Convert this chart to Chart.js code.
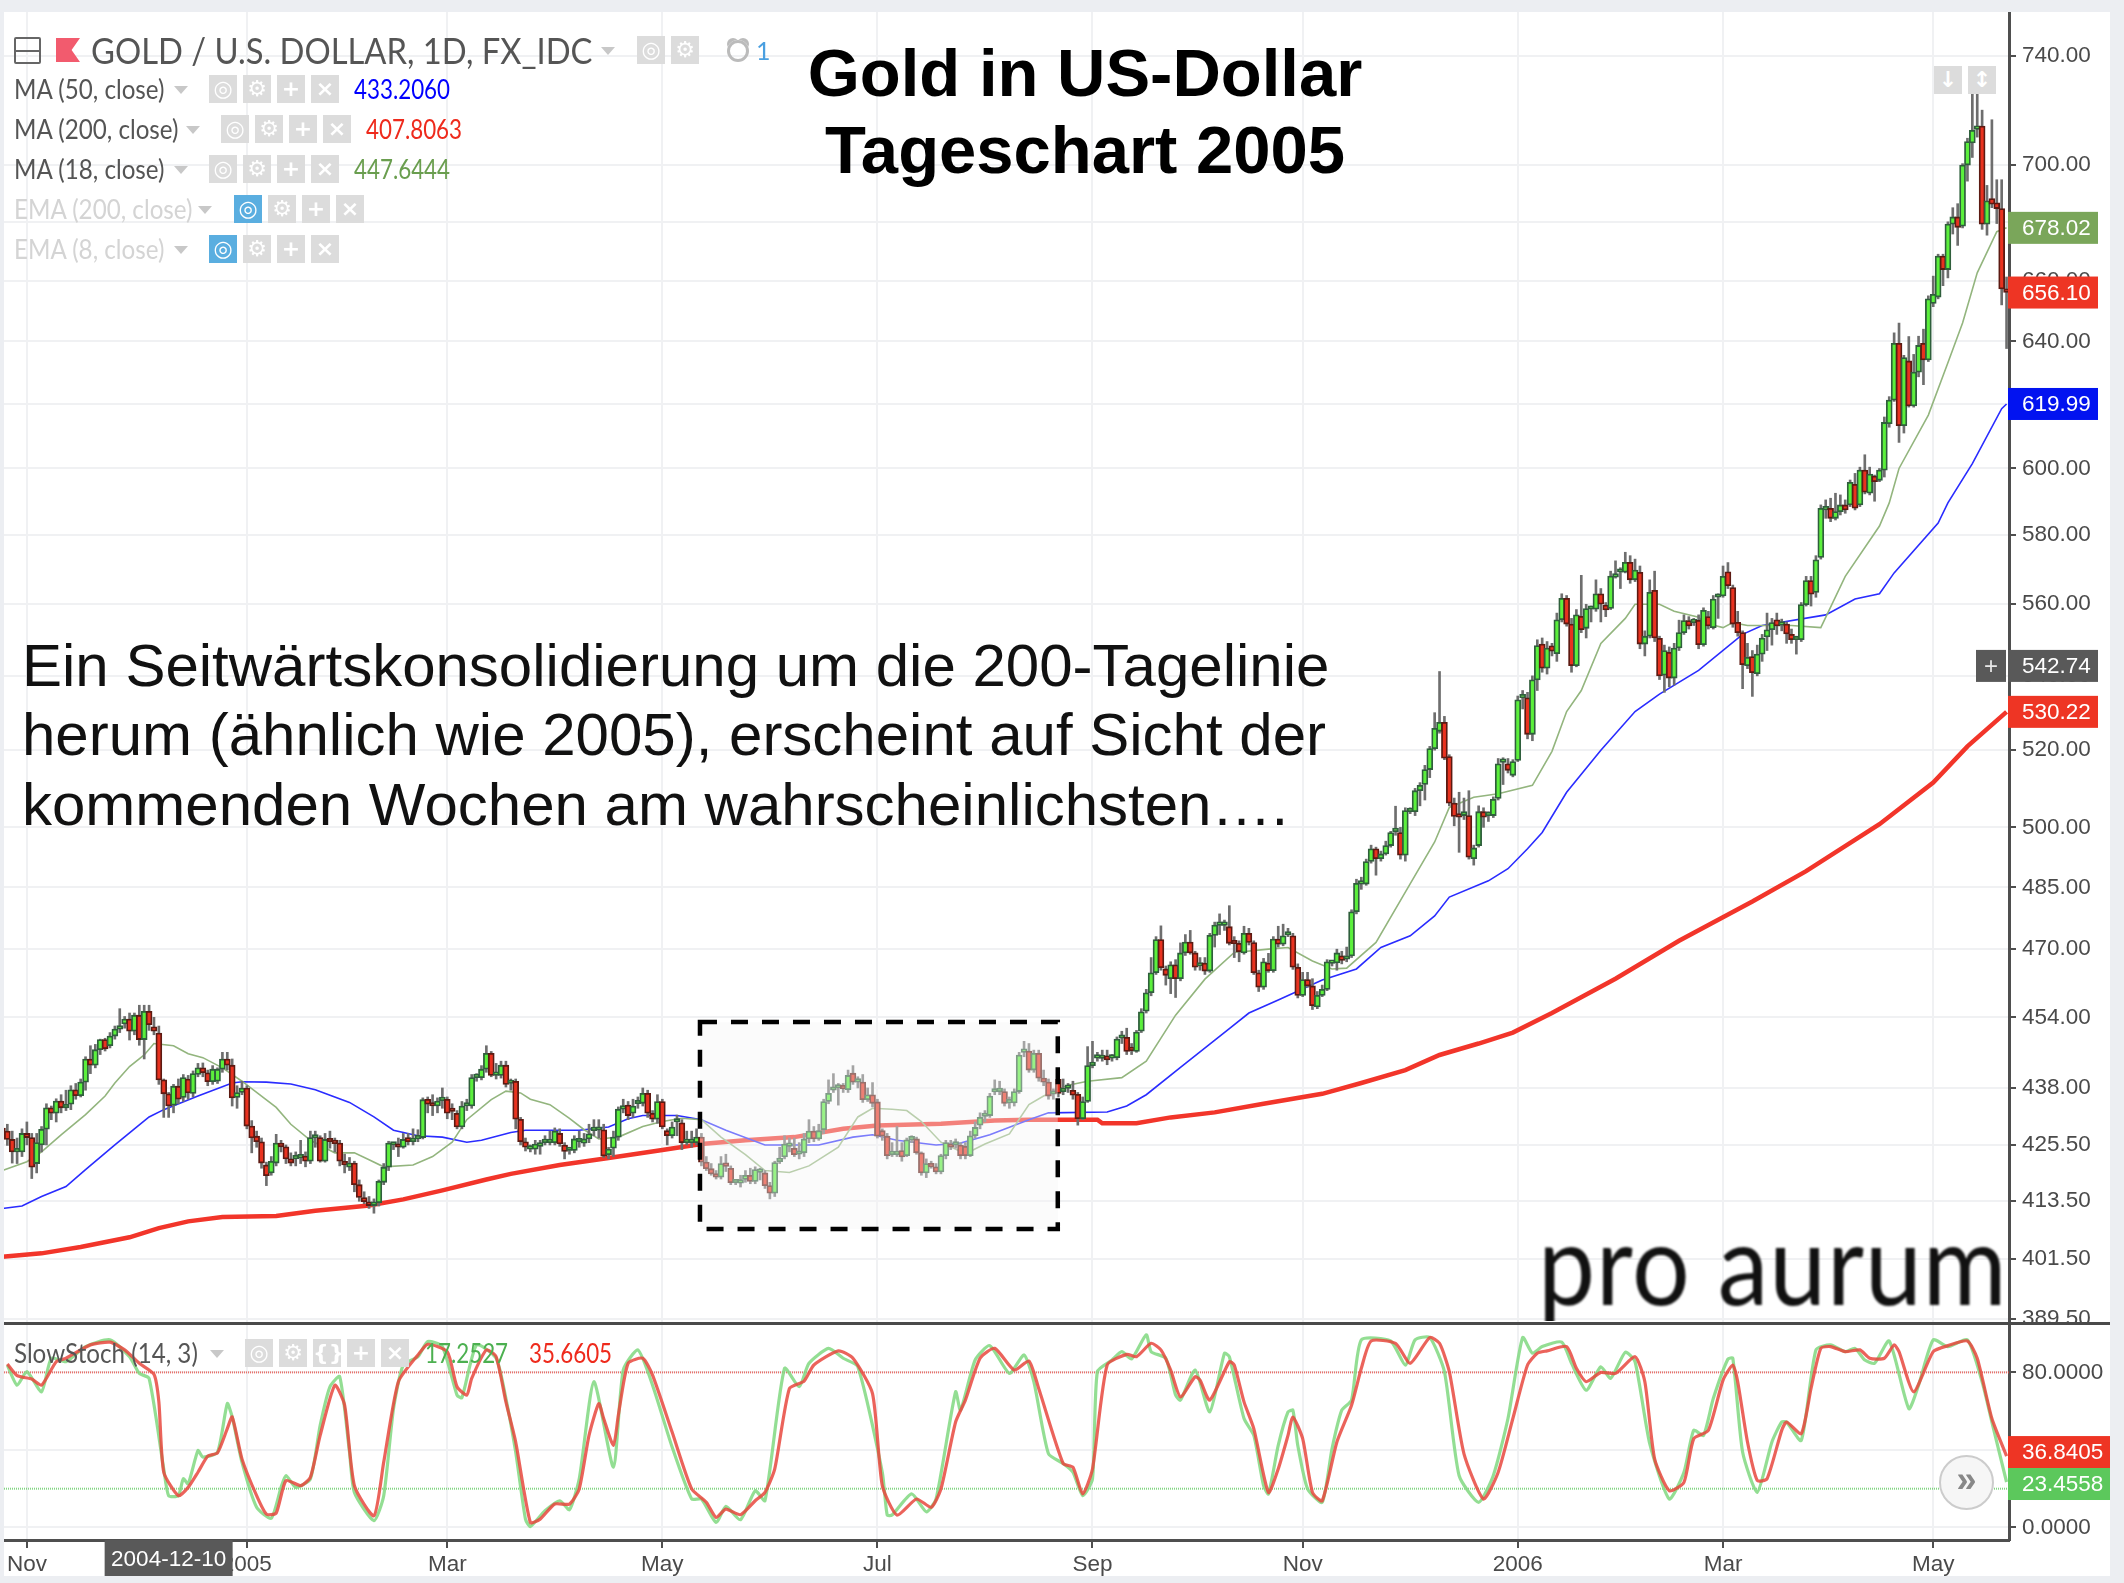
<!DOCTYPE html>
<html>
<head>
<meta charset="utf-8">
<title>Gold in US-Dollar</title>
<script src="https://cdn.jsdelivr.net/npm/chart.js@4/dist/chart.umd.min.js"></script>
<style>
html, body { margin: 0; padding: 0; background: #eceef2; }
body { position: relative; width: 2124px; height: 1583px; overflow: hidden; }
canvas { position: absolute; left: 0; background: #fff; }
.t { position: absolute; white-space: nowrap; transform: translateY(-50%); transform-origin: left center; line-height: 1; }
.sq { position: absolute; width: 28px; height: 28px; background: #dcdcdc; color: #fff; text-align: center; font: bold 22px/28px "DejaVu Sans"; }
</style>
</head>
<body>
<canvas id="priceChart" width="2110" height="1310" style="top:12px"></canvas>
<canvas id="stochChart" width="2110" height="254" style="top:1322px"></canvas>
<div style="position:absolute;left:0;top:0;width:4px;height:1583px;background:#eceef2"></div>
<div style="position:absolute;left:4px;top:1322px;width:2106px;height:3px;background:#4a4a4a"></div>
<div id="overlay"></div>
<script>
const opens = [
429,428.5,426.7,424,424,428,427.1,421.5,425.5,428.9,
433.6,432.4,435.1,433.6,434.4,437.6,436.3,439.3,444.5,443.1,
446.6,448.9,447.5,449.7,451.3,452.5,453.6,450.8,454.5,448.9,
455.4,451.8,450.4,439.8,436.7,434.2,438.4,435.9,440,436.8,
441,442.5,441.4,439.4,439.5,442.2,444.5,443.1,435.9,437,
438,429.6,427.4,426.2,421.2,419.5,421.6,425.9,425.1,422.5,
422.5,422.7,423.1,422,427,427.1,422,426.3,425.9,425.9,
422,420.7,421.6,417,414.3,413.4,412.6,413.2,417.5,420.7,
425.5,425.4,425,427.1,426.2,426.8,427.1,435.5,434.1,434,
435.2,435.5,432.9,432.4,429.4,434,434,440.3,440.3,442.2,
445.8,440.8,440.8,443.1,439,439.5,431.1,426.2,424.6,424.6,
425.2,426,426,426,428,425.5,424.3,424.3,426.2,425.9,
426.8,428.6,428.7,428.8,423.4,424.8,427.2,433.3,434.2,432.4,
434.5,434.6,436.8,432.4,431.1,435,428.6,427.5,430.5,430.3,
426,426,426,427.2,421.8,420.4,419.3,418.6,421.2,420.5,
417.4,417.3,418.1,419,417.7,419.6,419.5,416.8,415.2,421.9,
422.9,425.2,424.8,423.5,423.8,426.8,428.5,426.8,428.8,435,
437.5,438,438.5,437.6,441.3,439.3,439.3,435.4,436.5,434.9,
428.6,427.4,423.4,423.4,424.3,423.2,426.6,426.8,423.8,419.5,
421.5,420.8,419.7,423.2,425.5,425.5,425.5,425.2,423.2,427.5,
429.8,431.7,431.9,437.1,437.2,437.2,434.7,434.7,437.2,446,
446.3,442,445.8,440.2,439.3,436.6,439.9,437.2,437.9,437.5,
436.6,431.2,435,443,444.7,444.6,445.2,444.7,444.8,449.2,
449.4,446.5,446.2,450.8,455.4,459.7,464.4,472.3,465.3,463,
466.3,463,469.1,471.7,469.1,466,466.7,464.8,473.3,475.7,
475.7,475.4,471.7,471.4,469.1,473.8,471.6,464.4,461,466.7,
464.9,472.4,471.2,473.4,473.2,465.7,459.1,462.8,461.3,456.4,
459.1,460.5,466.6,466.7,468.4,467.6,468.4,479,485.8,485.8,
491.4,494.6,492.1,493.3,495.4,498.9,498.7,493,504,504,
509.4,511,514.9,520.4,525,527.4,518.3,506.2,502.7,503,
503,492.1,495.4,504,503,503,507.4,516.8,516.4,513.4,
517.3,534,534,524.2,538.9,548.8,542.1,548.3,546.1,555.6,
561.7,554.4,542.8,556.6,553.2,558.6,558.6,563,559.8,558.8,
567.8,569.2,569.2,572.1,567,569.2,548.8,551,564,550.4,
540.2,546.5,539.4,547.7,552,555.4,554.8,555.5,548.6,556.5,
553.4,562,562.4,569.3,564.8,554.9,552,542.8,545.3,540.6,
546,550.8,552.8,555.6,554.1,554.4,551.5,550,550,559.9,
566.8,563.4,573.5,587.5,588,585,587,589,589,595.2,
589,599.5,592.5,597.7,596.4,599.5,613.8,621.2,639.4,613.2,
633.7,619.4,630.1,639.4,634,652.5,654.6,668.4,663.8,679.3,
681.8,678.6,700,707.9,712.8,714,679.3,688.2,686.7,684.7,657.3]
const closes = [
428.4,426.7,424,424.2,428,427.1,420.7,426,428.9,433.6,
432.4,435.1,433.6,434.4,437.6,436.3,439.3,444.5,443.1,446.6,
448.9,446.8,449.7,451.3,452.1,453.6,450.8,454.5,448.9,455.4,
452.3,450.8,439.8,436.7,434,438.4,435.5,440.3,436.9,441.2,
442.5,441.4,439.4,442.2,442.2,444.5,443.1,435.8,437,438,
429.6,427,426.2,421.6,418.9,422,425.9,425.1,422.5,421.6,
422.8,422.8,422,427.1,427,422,426.7,426.2,425.8,422,
421.2,421.6,417,414.3,413.4,412.6,413.4,417.7,420.7,425.9,
425.5,425,426.7,426.2,427,427.1,435.4,434.4,434,435.1,
435.4,432.4,432.8,429.4,434,434,440.3,440.4,442.2,445.8,
440.8,440.8,443.1,438.8,439.2,431.1,426.2,425,424.6,425.7,
426,426,426.2,428.5,425.7,424.1,424.3,426.8,426.2,426.8,
427.9,428.7,428.7,423.1,424.6,427.2,433.3,434,431.9,434,
434.6,436.8,432.4,431.1,435,429.4,427.5,429.4,430.5,426,
426,426.2,427.2,421.8,420.4,419.3,418.6,421.5,420.9,417.4,
417.4,418.1,419,417.7,420.2,419.6,416.8,415.2,421.7,422,
425.7,425.2,423.4,423.5,426.8,428.5,426.8,428.6,435,436.8,
438,438.2,437.8,440.8,439.3,439.3,435.4,436.5,434.6,427.4,
427.4,423.2,423.4,423.6,422.9,426.6,426.8,423.8,419.5,421.5,
420.8,419.7,423.2,426,425,426.2,423.2,423.2,427.5,429.3,
431.5,431.7,436.2,437.1,437.2,434.6,434.7,437.2,445.4,446.3,
442,445.8,440.2,439.3,436.2,436.9,436.8,437.9,437.9,436.4,
431.2,435,443,443.1,444.7,444.8,444.3,444.8,449,449.2,
446.2,446.4,450.6,455.3,459.7,464.4,472.3,465.6,463.8,466.3,
463,469.1,471.7,469.1,465.7,466,464.8,473.3,475.8,475.7,
475.7,471.4,471.3,469.4,473.8,471.6,464.4,461,467,464.9,
472.4,471.2,473.2,473.4,465.7,459.1,462.8,461.3,456.7,459.1,
460.5,467,466.6,469.1,467.3,468.4,479,486,485.8,491.4,
494.6,492.1,493.3,495.4,498.7,499,493,504.3,504.1,509.4,
510.8,514.9,520.4,525.8,527.4,517.9,506.2,502.8,502.6,504,
492.5,494.8,504,502.6,503,507.2,516.4,516.8,514.7,517,
533.5,534,524.2,538.9,548.4,542.1,547.7,546.8,555.6,561.7,
554.4,542.8,557,552.8,558.8,558.6,563,560,558.4,568.1,
568.8,569.2,572.1,567,569.8,548.8,551,563.4,550.5,540,
547,539.4,547.7,552,555.4,553.9,555.2,548.6,558.3,553.9,
561.5,562,568,565.3,554.4,552,543.1,545.1,540.9,546,
550.5,552.8,554.8,553.9,554.1,551.6,550,550,559.9,566.8,
562.9,572.8,588,587.5,585,587,589,587.5,595.8,588,
599.5,592.8,598.3,596,599.5,614.2,621.2,639.4,613.2,634.8,
619.4,630.1,638.7,634,654,655.5,668.4,663.8,679.3,681.8,
678.2,700,708.4,712.5,714,679.3,687.4,686.2,684.7,657.3,656.1]
const highs = [
430.5,430,428.5,427,429,430.5,428,428,429.5,434.5,
434,435.6,436.5,437.5,438.5,439,440,445,447.5,447.8,
449,449.2,450.5,452,456,454.2,455,455,456.8,456.8,
456.8,454,452,440,437,438.8,440,441,440.8,441.8,
443.5,443.6,442,443,442.5,446,446,444.5,438.5,439.5,
438.5,430.8,428.5,427,421.8,423,427.8,426.5,425.5,423.8,
424,426.5,424,428.5,428.5,427.5,428,428.5,427,426.5,
423.5,422.8,422,418,415.5,414.5,414,418,421.5,426.3,
426,427,428,428,429,428.8,435.8,436,436.5,435.8,
438,436,434.5,433,435,435.5,441,441.2,443,447.5,
446.2,443.5,444,444,440,440,431.5,427,425.5,426.5,
426.5,427.5,428.5,429.2,429,426,425,427.5,428.5,428,
430,431,431,430,425,428.5,433.8,435.5,435,435.5,
436,438,437.5,433,436.5,435.5,429,430.5,432,431,
428.5,428.5,429,428,423,421.5,420,423,423.5,421,
418,419,420,420.5,420.8,420.5,420,417.5,422,425,
427.5,427,427,426,428,431,429.5,430,435.5,439.8,
441.2,439,439,442,443,440.5,441,438,439.2,435.5,
429,428,426,429.5,426,427,427.5,427.2,424,422.5,
422,421.5,423.5,426.5,426.5,426.8,426,426,428.5,430.5,
432.5,433,436.8,439.8,439.5,437.8,436,437.8,446,448.5,
448,446.5,446.5,442,440,437.8,441,440,439,439.5,
437,436,447.3,448.5,446,446.5,446.5,445.5,449.5,450.8,
451.5,448,451,456,460.5,468,473,475.6,466,467,
467.5,471.5,473.5,474.5,469.5,468,468,473.8,476.5,478.5,
477,480.5,473,472,475.5,475,472,465,467.8,469,
473,475.5,476,475,473.8,466.5,464.5,464.5,463,460,
461.5,467.5,467,470,469.5,470.5,479.5,487,487.5,492,
495.5,495,494,496.5,499,505.4,500,505,505,510,
511.5,516,521,530,541.2,529,518.8,507.5,509,507.5,
509.4,495.5,505.5,505,504,507.8,517.8,518,517.8,517.5,
534.5,536,535.5,540,550,550.5,549.5,549,557.5,563,
562.5,556,558.5,568.3,560,559.5,567,564.5,560.5,569.5,
572.5,570.5,575,574,573,571,552.5,567,569.5,551,
548.5,548,549,555.5,557,556.5,556,557,559,558,
562.5,563,571,572,565.5,558,552.5,549,547,548.5,
551.5,557.5,556,557.5,555.8,555,553,551,560.5,568,
568,574,589,590.5,591,592.5,592,590.5,596.5,598.5,
600.4,604.2,600.4,598,600,615.9,622.3,642.8,646,635.5,
641.6,635.8,641.7,644,655,661.6,669,669,680.1,685,
686.4,700.5,709.6,727,732,719.8,692.8,716.3,694.8,694.8,661.3]
const lows = [
426.5,425.4,421.6,421.5,423,425.5,418.3,419.5,424,425.5,
431,430.5,432.5,433,433.2,435.5,436,437.5,441.2,442.5,
445.5,446.3,447,449,450.5,451.5,448.8,450,447.6,444.5,
451,450,438.8,431.5,431.5,432.5,434.5,435,435.5,436,
440.5,440.5,438.5,438.8,439,441.5,442,434,433.5,436.5,
429,423.8,425,420.5,416.8,419,421,424,421.5,421,
421,421.5,420.8,421.5,425,421.8,421.8,424.8,424,421,
419.5,420,415.5,413.5,413,412,411,412.5,417,420,
424.5,423,424.8,425.5,425.5,426.2,426.8,432.5,431.9,432.5,
433.5,431.2,431,429,429,433,433.5,439.5,439.8,441.5,
440.5,440,440.2,438.2,437.5,429,425.5,424.2,424,423.5,
423.5,425.5,425.5,425.5,425.2,422.5,423.5,423.8,425,425.2,
426,427.5,427,422.8,422.5,423,426.5,432.5,431,431.5,
433.5,434,431.5,430.5,430.2,429,425.5,427,427.5,424.5,
425.5,425,425.5,421,420,419,418.2,418.2,419.8,417,
417,416.5,417.5,417.2,417.2,418,416.2,414,414.5,421.5,
422.5,424,423,422.5,423,426,426.2,426.5,428,434.5,
437,434.2,437,437,438.8,438,434.8,435,433.8,427,
426.5,422.5,423,423,422,423,426,423.5,419,418.5,
420.5,419.3,419.3,422.5,424.5,424.8,422.5,422.5,423,427,
429,430.5,431.5,436.5,436.5,434,433.5,434,436.8,445,
441.5,441.5,439.5,438.5,435.5,435.5,436,436.5,437,435.5,
429.8,431,434.8,442.5,444,444,443.2,444,444.3,448,
445.5,445.5,446,450.5,455,459,464,465,461.5,459.5,
458.6,462.5,468.5,468.8,465,465,464,464.5,470.5,473.5,
474.5,471,468,467,468.8,471,464,460,460.5,464.5,
464.5,470.5,470.8,473,465.2,458.5,458.8,461,455.8,456,
458.8,460.2,466,465,466.5,467,468,478.5,484.5,485.5,
491,488,491.5,493,495,498,492,491.5,503.5,503,
505.5,507,512.8,520,524.5,517.5,505.5,500.4,493.7,502,
492,490.5,495,500,501.5,502.5,507,511,514,513,
517,531,523,522.5,536,541,540.5,545.5,544,555,
553.8,541,542.5,552,550.5,555,558,555,556.5,558.5,
567.5,564.5,569,566,566.5,547.5,545.5,550.5,549.5,539,
535.5,537,537.5,547,551.5,553,554,547.5,548.2,553,
553,556,562,564.5,553.5,551,536.5,542,534.4,540,
544,547,548.5,551.5,552.5,549,549,546,549.5,559.5,
559.5,562,573,585,584,584.5,586,586.5,588.5,587.5,
588.5,592.3,592,590.1,596,597.4,612.7,620.8,608,610.9,
619,619,628.6,626.1,633.5,651.4,654,658.4,661,675.9,
672,678,694.3,702.7,710,677.5,675.5,685,679.5,652,637.7]

const ma200Idx = [0,8,16,26,32,38,45,56,64,75,82,90,99,104,114,124,135,143,152,162,172,179,192,203,210,216,224,225,232,239,248,258,270,278,287,294,302,309,317,330,343,358,369,384,395,402,410]
const ma200Vals = [402,402.7,404,406,407.9,409.3,410.2,410.4,411.5,412.6,413.9,415.8,418.1,419.3,421.2,422.7,424.4,425.7,426.5,427.2,429,429.7,430.1,430.8,431,431,431,430.2,430.2,431.5,432.6,434.5,436.7,439.1,442,445.4,448,450.5,455,463,472,481.5,489,500.8,511.5,521,530.22]
const ma50Idx = [0,4,8,13,17,23,27,30,33,40,47,49,54,59,64,71,76,80,85,90,95,98,104,107,118,124,128,131,138,143,148,156,167,174,178,183,191,196,202,210,214,226,230,234,241,251,255,261,270,277,282,288,293,296,304,308,312,315,320,327,334,339,347,356,360,373,379,384,387,396,398,403,409,410]
const ma50Vals = [412,412.5,414.5,416.6,420.2,425.5,429,431.6,433.2,436.2,439.1,439.4,439.3,438.9,437.6,434.8,431.6,428.7,427.5,427.2,426.1,426.5,428.2,428.7,428.7,429.4,431.2,431.9,431.9,431,428.7,425.5,425.5,427.2,427.7,426.5,425.5,425.9,427.7,431,432.5,432.7,434,436.5,442.6,451.4,455,458,462.7,465.3,470.4,473.2,478,482.6,486.6,489.6,494.6,498.7,509,520,530.3,535,541.5,551.5,554,557,561.5,563,569,583.6,589.6,601.5,618.5,619.99]
const ma18Idx = [0,5,8,12,17,21,23,26,29,31,35,38,41,45,49,53,56,59,63,68,72,75,78,84,88,92,95,100,103,106,108,112,116,119,122,126,131,135,139,143,147,152,156,161,165,171,175,178,182,185,188,192,197,201,206,210,213,218,222,229,234,240,246,252,259,263,268,272,275,281,287,293,296,301,306,313,317,320,323,327,332,334,339,342,347,348,352,354,357,360,366,372,377,384,386,388,394,398,401,404,408,410]
const ma18Vals = [420,421.9,424,427.7,432.1,436.2,439.1,442.8,445.4,448,447.5,445.7,444.8,442.5,439.5,436.2,433.7,430,426.5,423.8,423.8,422.3,420.8,421.2,423,426.1,431,435.4,437.3,436.9,435.5,434.3,431.3,428.8,426.8,427.2,429.5,430.6,431.3,431,427.2,423.4,420,419.6,421,425,431.6,433.5,433.3,433,430.6,426.1,423.6,425.7,427.9,434.3,436.2,438.6,439.5,440.3,444,454.5,462.9,469.2,470,470.4,467.2,465.3,465.5,471.6,483.8,496.3,505.1,507.7,508.6,510.8,519.7,530.3,536,549,556,560,560,558,556.3,554.8,553.4,554.8,554,554,554,553.4,568,582.7,589.6,600,616.5,633.1,646,662.7,676.7,678.02]

const stochKIdx = [
1,3,5,8,10,13,17,22,26,28,
30,33,34,36,37,38,40,41,44,46,
47,49,52,55,57,58,60,63,65,67,
69,71,72,76,78,80,82,85,87,90,
93,94,97,101,103,105,107,108,111,114,
116,118,121,125,127,130,133,137,141,143,
146,148,151,154,156,160,163,165,169,172,
175,180,181,182,186,189,191,195,196,199,
202,206,209,211,214,217,219,221,223,224,
227,229,231,234,235,238,240,241,244,247,
250,251,254,256,258,259,261,263,264,265,
267,270,272,274,276,278,284,287,289,292,
295,298,302,305,308,311,313,315,319,321,
324,327,329,332,334,337,341,344,346,348,
350,353,354,356,359,362,364,365,368,371,
374,377,379,381,383,386,390,392,395,398,
402,405,407,410]
const stochKVals = [
83.8,73.4,80.4,70,87.3,85.5,93.3,96.8,88.1,79.5,
76.9,30.2,16.4,16.4,25.1,22.5,39.7,36.3,38.9,63.9,
57,33.7,10.4,4.7,20.7,26.8,20.7,25.1,52.7,72.6,
77.8,38.9,18.1,3.5,16.4,61.3,83.8,88.1,95.9,93.3,
68.3,66.9,94.2,87.3,66.5,38.9,4.3,0.5,8.6,13.8,
9.2,25.1,75.2,31.1,81.2,91.6,73.4,41.5,14.7,14.7,
2.6,10.9,4,19,13.8,82.1,72.6,84.7,92.4,87.3,
82.9,28.5,6.4,6.4,17.3,8.1,14.7,70,60.5,86.4,
93.8,79.5,89,75.2,38,33,28.5,16.4,25.1,80.4,
86.4,90.7,86.9,99.4,90.7,87.3,68.3,65.7,81.2,59.6,
89.9,88.1,56.2,47.5,21.6,17.3,42.3,59.6,60.5,42.3,
19.9,13,40.6,60.5,65.7,96.8,96.2,83.8,96.8,98,
80.4,26.8,13,26.8,56.2,98,89.9,93.3,95.6,84.7,
70.8,82.9,76.9,90.4,85.5,43.2,14.7,28.5,50.1,47.5,
66.5,86.9,87.3,38.9,18.1,44.1,54.4,54.4,44.9,91.6,
94.2,90.7,92.4,86.4,84.7,96.2,61.3,73.4,96.8,93.3,
96.8,75.2,54.4,23.46]
const stochDIdx = [
1,3,6,8,11,13,18,22,25,28,
31,32,33,36,38,40,42,44,46,47,
49,52,54,56,58,61,63,65,68,70,
72,76,78,81,85,87,91,93,95,96,
99,101,103,105,108,110,113,116,118,120,
122,123,125,126,128,131,133,137,141,144,
146,148,151,154,156,158,161,164,166,171,
174,178,180,183,187,190,192,195,197,200,
203,207,210,212,217,219,221,223,226,230,
232,235,237,239,241,244,245,247,251,252,
254,256,259,261,263,264,266,268,270,273,
276,278,280,285,288,292,294,296,299,303,
306,309,312,314,316,320,322,324,327,330,
334,336,338,341,344,346,349,352,354,355,
357,359,361,364,365,368,370,372,374,377,
380,382,385,387,388,391,395,398,402,404,
407,410]
const stochDVals = [
84.3,78.3,76.6,73.4,85.5,87.3,94.2,95.6,91.6,84.7,
79,64.8,28.5,16.4,20.7,28.5,36.8,38.5,51,57,
35.4,16.4,6.9,7.4,24.2,21.6,25.9,47.5,73.4,63.1,
21.6,6,33.7,75.2,89,94.5,90.7,72.6,68.3,76.9,
91.6,88.1,64.8,44.1,2.6,4.3,12.1,12.1,19.9,47.5,
63.9,56.2,42.3,57.9,84.7,87.3,78.6,49.2,19.9,13,
5.2,9.5,6.6,13.8,18.1,30.2,71.7,75.5,83.8,91.1,
87.3,69.1,21.6,6.4,14.7,10.4,19.9,54.4,65.7,87.3,
92.4,81.2,85.9,71.7,33,31.1,17.3,30.2,83.8,89.3,
88.1,95,91.6,81.2,67.4,77.8,76,65.7,85.5,83.8,
64.8,51,18.1,30.2,47.5,57,45.8,18.1,13.8,44.1,
63.1,82.1,96.2,95,84.7,98,95,80.4,38,14.7,
28.5,56.2,83.8,89.9,91.1,93.3,82.1,75.2,80,79.5,
88.1,75.2,35.4,19,23.3,45.8,50.1,76,83.8,75.2,
44.1,24.2,25.1,50.1,54.4,48.4,71.7,92.4,93.3,90.7,
91.6,87.3,87.3,94.2,90.7,70,90.7,93.8,96.2,87.3,
56.2,36.84]

const priceTicks = [740,700,680,660,640,620,600,580,560,540,520,500,485,470,454,438,425.5,413.5,401.5,389.5]
const stochTicks = [0,40,80]
const stochUpper = 80
const stochLower = 20
const monthIdx = [5,50,91,135,179,223,266,310,352,395]
const monthNames = ['Nov','2005','Mar','May','Jul','Sep','Nov','2006','Mar','May']

const priceTagValues = [678.02,656.10,619.99,542.74,530.22]
const priceTagColors = ['#7aa65a','#ee3524','#0213f0','#595959','#ee3524']
const stochTagValues = [36.8405,23.4558]
const stochTagColors = ['#ee3524','#5cc85c']
const stochTagShift = [-4,2]
const crossIdx = 34

const boxFirstIdx = 142.7
const boxLastIdx = 215.9
const boxTopPrice = 452.9
const boxBottomPrice = 407.7

// weekdays only, the chart has no gaps for weekends
const dates = []
for (let t = Date.UTC(2004, 9, 25); dates.length < opens.length; t += 86400000) {
    const d = new Date(t)
    if (d.getUTCDay() !== 0 && d.getUTCDay() !== 6) dates.push(d.toISOString().slice(0, 10))
}

function sparse(idx, vals) {
    const out = new Array(opens.length).fill(null)
    idx.forEach((k, n) => { out[k] = vals[n] })
    return out
}

function lineSet(data, color, width, order, tension) {
    return { type: 'line', data, borderColor: color, borderWidth: width, pointRadius: 0, spanGaps: true, tension: tension || 0, order }
}

const axisFont = { family: '"Liberation Sans"', size: 22.5 }
const gridColor = '#f0f1f3'
const axisColor = '#4f4f4f'

function monthAxis(showLabels) {
    return {
        grid: { color: gridColor, lineWidth: 2, offset: false, drawTicks: showLabels, tickColor: axisColor, tickLength: 8, tickWidth: 2 },
        border: { display: showLabels, color: axisColor, width: 3 },
        ticks: {
            display: showLabels, autoSkip: false, maxRotation: 0, color: '#4a4a4a', font: axisFont, padding: 3,
            callback: v => monthNames[monthIdx.indexOf(v)]
        },
        afterBuildTicks: s => { s.ticks = monthIdx.map(v => ({ value: v })) },
        afterFit: s => { s.height = showLabels ? 36 : 0; s.paddingLeft = 0; s.paddingRight = 0 }
    }
}

function valueAxis(ticks, digits, extra) {
    return Object.assign({
        position: 'right',
        grid: { color: gridColor, lineWidth: 2, tickColor: axisColor, tickLength: 7, tickWidth: 2 },
        border: { color: axisColor, width: 3 },
        ticks: { color: '#4a4a4a', font: axisFont, padding: 6, autoSkip: false, callback: v => v.toFixed(digits) },
        afterBuildTicks: s => { s.ticks = ticks.map(v => ({ value: v })) },
        afterFit: s => { s.width = 101; s.paddingTop = 0; s.paddingBottom = 0 }
    }, extra)
}

function drawTag(ctx, x, y, w, color, text) {
    ctx.fillStyle = color
    ctx.fillRect(x, y - 16, w, 32)
    ctx.fillStyle = '#fff'
    ctx.font = '22.5px "Liberation Sans"'
    ctx.textAlign = 'left'
    ctx.textBaseline = 'middle'
    ctx.fillText(text, x + 14, y + 1)
}

const dashedBox = {
    id: 'dashedBox',
    afterDatasetsDraw(chart) {
        const { ctx, scales: { x, y } } = chart
        const l = x.getPixelForDecimal((boxFirstIdx + 0.5) / opens.length)
        const r = x.getPixelForDecimal((boxLastIdx + 0.5) / opens.length)
        const t = y.getPixelForValue(boxTopPrice)
        const b = y.getPixelForValue(boxBottomPrice)
        ctx.save()
        ctx.fillStyle = 'rgba(245,245,245,0.4)'
        ctx.fillRect(l, t, r - l, b - t)
        ctx.strokeStyle = '#000'
        ctx.lineWidth = 4.5
        ctx.setLineDash([17, 14])
        ctx.strokeRect(l, t, r - l, b - t)
        ctx.restore()
    }
}

const priceTags = {
    id: 'priceTags',
    afterDraw(chart) {
        const { ctx, scales: { y } } = chart
        ctx.save()
        priceTagValues.forEach((v, n) => {
            const py = y.getPixelForValue(v)
            drawTag(ctx, 2008, py, 90, priceTagColors[n], v.toFixed(2))
        })
        const crossY = y.getPixelForValue(priceTagValues[3])
        ctx.fillStyle = '#595959'
        ctx.fillRect(1976, crossY - 16, 30, 32)
        ctx.fillStyle = '#e8e8e8'
        ctx.font = '24px "Liberation Sans"'
        ctx.textAlign = 'center'
        ctx.fillText('+', 1991, crossY + 1)
        ctx.restore()
    }
}

const stochExtras = {
    id: 'stochExtras',
    beforeDatasetsDraw(chart) {
        const { ctx, chartArea, scales: { y } } = chart
        ctx.save()
        ctx.lineWidth = 2
        ctx.setLineDash([1, 1])
        ctx.strokeStyle = 'rgba(232,70,60,0.75)'
        ctx.beginPath()
        ctx.moveTo(chartArea.left, y.getPixelForValue(stochUpper))
        ctx.lineTo(chartArea.right, y.getPixelForValue(stochUpper))
        ctx.stroke()
        ctx.strokeStyle = 'rgba(90,200,90,0.75)'
        ctx.beginPath()
        ctx.moveTo(chartArea.left, y.getPixelForValue(stochLower))
        ctx.lineTo(chartArea.right, y.getPixelForValue(stochLower))
        ctx.stroke()
        ctx.restore()
    },
    afterDraw(chart) {
        const { ctx, chartArea, scales: { x, y } } = chart
        ctx.save()
        stochTagValues.forEach((v, n) => {
            drawTag(ctx, 2008, y.getPixelForValue(v) + stochTagShift[n], 102, stochTagColors[n], v.toFixed(4))
        })
        const cx = x.getPixelForValue(crossIdx)
        ctx.fillStyle = '#595959'
        ctx.fillRect(cx - 64, chartArea.bottom, 128, 37)
        ctx.fillStyle = '#fff'
        ctx.font = '22.5px "Liberation Sans"'
        ctx.textAlign = 'center'
        ctx.textBaseline = 'middle'
        ctx.fillText(dates[crossIdx], cx, chartArea.bottom + 20)
        ctx.restore()
    }
}

new Chart('priceChart', {
    type: 'bar',
    data: {
        labels: dates,
        datasets: [
            lineSet(sparse(ma200Idx, ma200Vals), '#f2352a', 4.5, 5),
            lineSet(sparse(ma50Idx, ma50Vals), '#2a2cff', 1.6, 4),
            lineSet(sparse(ma18Idx, ma18Vals), '#93b57e', 1.6, 3),
            {
                data: lows.map((v, i) => [v, highs[i]]),
                backgroundColor: '#6e6e6e', borderWidth: 0, barThickness: 2, grouped: false, order: 2
            },
            {
                data: opens.map((v, i) => [v, closes[i]]),
                backgroundColor: opens.map((v, i) => closes[i] >= v ? '#5bf03c' : '#e9321f'),
                borderColor: opens.map((v, i) => closes[i] >= v ? '#2f5f3c' : '#5c1a12'),
                borderWidth: 1.8, borderSkipped: false, barThickness: 6, minBarLength: 3.5, grouped: false, order: 1
            }
        ]
    },
    options: {
        responsive: false, animation: false,
        layout: { padding: 0 },
        plugins: { legend: { display: false }, tooltip: { enabled: false } },
        scales: {
            x: monthAxis(false),
            y: valueAxis(priceTicks, 2, { type: 'logarithmic', min: 388.9, max: 756.6, bounds: 'data' })
        }
    },
    plugins: [dashedBox, priceTags]
})

new Chart('stochChart', {
    type: 'line',
    data: {
        labels: dates,
        datasets: [
            lineSet(sparse(stochKIdx, stochKVals), 'rgba(128,216,128,0.85)', 3.2, 2, 0.2),
            lineSet(sparse(stochDIdx, stochDVals), 'rgba(232,72,62,0.85)', 3.2, 1, 0.2)
        ]
    },
    options: {
        responsive: false, animation: false,
        layout: { padding: 0 },
        plugins: { legend: { display: false }, tooltip: { enabled: false } },
        scales: {
            x: Object.assign(monthAxis(true), { offset: true }),
            y: valueAxis(stochTicks, 4, { min: -6.46, max: 106 })
        }
    },
    plugins: [stochExtras]
})

// texts and the little buttons of the trading screen on top of the canvases
const overlay = document.getElementById('overlay')

function label(x, y, text, css) {
    const el = document.createElement('div')
    el.className = 't'
    el.textContent = text
    el.style.cssText = `left:${x}px;top:${y}px;` + css
    overlay.appendChild(el)
    return el
}

function square(x, y, glyph, bg) {
    const el = document.createElement('div')
    el.className = 'sq'
    el.textContent = glyph
    el.style.left = x + 'px'
    el.style.top = (y - 14) + 'px'
    if (bg) el.style.background = bg
    overlay.appendChild(el)
}

function caret(x, y) {
    const el = document.createElement('div')
    el.style.cssText = `position:absolute;left:${x - 7}px;top:${y - 3}px;border:7px solid transparent;border-top:8px solid #c8c8c8;border-bottom:0`
    overlay.appendChild(el)
}

const legendFont = 'font-family:Lato;font-size:26px;color:#555;transform:translateY(-50%) scaleX(.93);'
const valueFont = 'font-family:Lato;font-size:26px;transform:translateY(-50%) scaleX(.86);'
const rowNames = ['MA (50, close)', 'MA (200, close)', 'MA (18, close)', 'EMA (200, close)', 'EMA (8, close)']
const rowValues = ['433.2060', '407.8063', '447.6444', '', '']
const rowValueColors = ['#0000ff', '#ee2a1c', '#6a9e4f', '', '']
const rowCarets = [181, 193, 181, 205, 181]
const rowSquares = [209, 221, 209, 234, 209]
const rowValueX = [354, 366, 354, 0, 0]
const rowY = [89, 129, 169, 209, 249]

rowNames.forEach((name, n) => {
    const faded = n > 2
    label(14, rowY[n], name, legendFont + (faded ? 'color:#d4d4d4;' : ''))
    caret(rowCarets[n], rowY[n])
    ;['◎', '⚙', '+', '×'].forEach((g, k) => {
        square(rowSquares[n] + k * 34, rowY[n], g, faded && k === 0 ? '#5aaee0' : null)
    })
    if (rowValues[n]) label(rowValueX[n], rowY[n], rowValues[n], valueFont + `color:${rowValueColors[n]};`)
})

// header row
const collapse = document.createElement('div')
collapse.style.cssText = 'position:absolute;left:14px;top:37px;width:23px;height:23px;border:2px solid #666;border-radius:2px;background:linear-gradient(#666,#666) center/100% 2px no-repeat'
overlay.appendChild(collapse)
const flag = document.createElement('div')
flag.style.cssText = 'position:absolute;left:56px;top:38px;width:24px;height:24px;background:#f25b6e;clip-path:polygon(0 0,100% 0,65% 50%,100% 100%,0 100%)'
overlay.appendChild(flag)
label(91, 50, 'GOLD / U.S. DOLLAR, 1D, FX_IDC', 'font-family:Lato;font-size:36px;color:#555;transform:translateY(-50%) scaleX(.91);')
caret(608, 50)
square(637, 50, '◎')
square(671, 50, '⚙')
const clock = document.createElement('div')
clock.style.cssText = 'position:absolute;left:727px;top:40px;width:16px;height:16px;border:3px solid #bbb;border-radius:50%;box-shadow:-5px -7px 0 -5px #bbb,5px -7px 0 -5px #bbb'
overlay.appendChild(clock)
label(756, 50, '1', 'font-family:Lato;font-size:25px;color:#4a9fe0;')

square(1934, 80, '↓')
square(1968, 80, '↕')

label(14, 1353, 'SlowStoch (14, 3)', legendFont)
caret(217, 1353)
;['◎', '⚙', '{}', '+', '×'].forEach((g, k) => square(245 + k * 34, 1353, g))
label(425, 1353, '17.2527', valueFont + 'color:#4cb050;')
label(529, 1353, '35.6605', valueFont + 'color:#ee2a1c;')

// headline
const titleFont = 'font-family:"Liberation Sans";font-weight:bold;font-size:67px;color:#000;transform:translate(-50%,-50%);'
label(1085, 72, 'Gold in US-Dollar', titleFont)
label(1085, 149, 'Tageschart 2005', titleFont)

const noteFont = 'font-family:"Liberation Sans";font-size:60px;color:#111;'
label(22, 666, 'Ein Seitwärtskonsolidierung um die 200-Tagelinie', noteFont)
label(22, 735, 'herum (ähnlich wie 2005), erscheint auf Sicht der', noteFont)
label(22, 805, 'kommenden Wochen am wahrscheinlichsten….', noteFont)

// logo is cut off by the lower pane
const logoClip = document.createElement('div')
logoClip.style.cssText = 'position:absolute;left:1530px;top:1220px;width:480px;height:101px;overflow:hidden'
const logo = document.createElement('div')
logo.textContent = 'pro aurum'
logo.style.cssText = 'position:absolute;left:8px;top:-14px;white-space:nowrap;font-family:Lato;font-size:112px;line-height:1;color:#111;filter:blur(1.2px);letter-spacing:1px;transform:scaleX(.91);transform-origin:left center'
logoClip.appendChild(logo)
overlay.appendChild(logoClip)

// go to latest bar button
const jump = document.createElement('div')
jump.textContent = '»'
jump.style.cssText = 'position:absolute;left:1939px;top:1455px;width:51px;height:51px;border:2px solid #ccc;border-radius:50%;background:#f6f6f6;color:#888;font:bold 36px/46px "Liberation Sans";text-align:center'
overlay.appendChild(jump)
</script>
</body>
</html>
